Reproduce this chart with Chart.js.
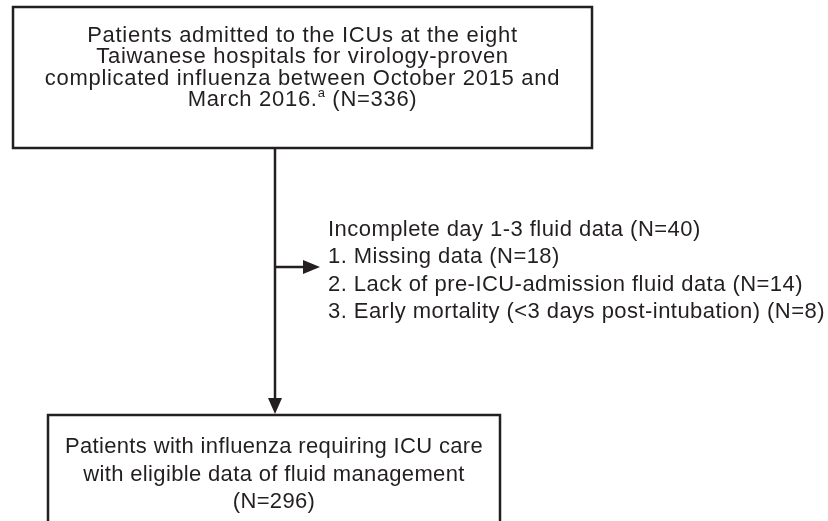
<!DOCTYPE html>
<html lang="en">
<head>
    <meta charset="UTF-8">
    <title>Flow chart - influenza ICU patients</title>
    <script src="https://cdn.jsdelivr.net/npm/chart.js"></script>
    <style>
        html, body { margin: 0; padding: 0; background: #fff; }
        #wrap { width: 828px; height: 521px; position: relative; }
    </style>
</head>
<body>
    <div id="wrap">
        <canvas id="flowChart"></canvas>
    </div>
    <script>
// counts shown in the flow
const enrolledN = 336;
const excludedN = 40;
const exclusionReasons = ['Missing data', 'Lack of pre-ICU-admission fluid data', 'Early mortality (<3 days post-intubation)'];
const exclusionCounts = [18, 14, 8];
const finalN = 296;

// box texts
const topLines = [
    'Patients admitted to the ICUs at the eight',
    'Taiwanese hospitals for virology-proven',
    'complicated influenza between October 2015 and'
];
const topLastLine = ['March 2016.', 'a', ' (N=' + enrolledN + ')'];
const sideLines = ['Incomplete day 1-3 fluid data (N=' + excludedN + ')']
    .concat(exclusionReasons.map((r, i) => (i + 1) + '. ' + r + ' (N=' + exclusionCounts[i] + ')'));
const bottomLines = [
    'Patients with influenza requiring ICU care',
    'with eligible data of fluid management',
    '(N=' + finalN + ')'
];

// layout in chart units (1 unit = 1 px on the 828x521 page)
const topBox = { left: 13, right: 592, top: 7, bottom: 148 };
const bottomBox = { left: 48, right: 500, top: 415, bottom: 545 };
const trunkX = 275;
const branchY = 267;
const branchTip = 320;

const ink = '#231f20';
const font = '22px "Liberation Sans", Arial, sans-serif';
const supFont = '13px "Liberation Sans", Arial, sans-serif';

const flowPlugin = {
    id: 'flow',
    afterDraw(chart) {
        const ctx = chart.ctx;
        const xs = chart.scales.x, ys = chart.scales.y;
        const px = v => xs.getPixelForValue(v);
        const py = v => ys.getPixelForValue(v);

        ctx.save();
        ctx.strokeStyle = ink;
        ctx.fillStyle = ink;
        ctx.lineWidth = 2.5;

        // boxes
        [topBox, bottomBox].forEach(b => {
            ctx.strokeRect(px(b.left), py(b.top), px(b.right) - px(b.left), py(b.bottom) - py(b.top));
        });

        // main arrow down
        ctx.beginPath();
        ctx.moveTo(px(trunkX), py(topBox.bottom));
        ctx.lineTo(px(trunkX), py(bottomBox.top - 14));
        ctx.stroke();
        ctx.beginPath();
        ctx.moveTo(px(trunkX - 7), py(bottomBox.top - 17));
        ctx.lineTo(px(trunkX + 7), py(bottomBox.top - 17));
        ctx.lineTo(px(trunkX), py(bottomBox.top - 1));
        ctx.closePath();
        ctx.fill();

        // side arrow
        ctx.beginPath();
        ctx.moveTo(px(trunkX), py(branchY));
        ctx.lineTo(px(branchTip - 14), py(branchY));
        ctx.stroke();
        ctx.beginPath();
        ctx.moveTo(px(branchTip - 17), py(branchY - 7));
        ctx.lineTo(px(branchTip - 17), py(branchY + 7));
        ctx.lineTo(px(branchTip), py(branchY));
        ctx.closePath();
        ctx.fill();

        // texts
        ctx.font = font;
        ctx.textBaseline = 'alphabetic';

        // top box
        ctx.letterSpacing = '0.7px';
        const cxTop = (topBox.left + topBox.right) / 2;
        ctx.textAlign = 'center';
        topLines.forEach((t, i) => ctx.fillText(t, px(cxTop), py(42 + 21.3 * i)));

        // last line with superscript
        ctx.textAlign = 'left';
        const w1 = ctx.measureText(topLastLine[0]).width;
        const w3 = ctx.measureText(topLastLine[2]).width;
        ctx.font = supFont;
        const w2 = ctx.measureText(topLastLine[1]).width;
        const x0 = px(cxTop) - (w1 + w2 + w3) / 2;
        const base = py(42 + 21.3 * 3);
        ctx.font = font;
        ctx.fillText(topLastLine[0], x0, base);
        ctx.font = supFont;
        ctx.fillText(topLastLine[1], x0 + w1, base - 9);
        ctx.font = font;
        ctx.fillText(topLastLine[2], x0 + w1 + w2, base);

        // exclusion text
        ctx.letterSpacing = '0.45px';
        ctx.textAlign = 'left';
        sideLines.forEach((t, i) => ctx.fillText(t, px(328), py(236 + 27.3 * i)));

        // bottom box text
        ctx.letterSpacing = '0.35px';
        const cxBot = (bottomBox.left + bottomBox.right) / 2;
        ctx.textAlign = 'center';
        bottomLines.forEach((t, i) => ctx.fillText(t, px(cxBot), py(453 + 27.5 * i)));

        ctx.restore();
    }
};

new Chart(document.getElementById('flowChart').getContext('2d'), {
    type: 'scatter',
    data: { datasets: [] },
    options: {
        responsive: true,
        maintainAspectRatio: false,
        animation: false,
        layout: { padding: 0 },
        plugins: { legend: { display: false }, tooltip: { enabled: false } },
        scales: {
            x: { type: 'linear', min: 0, max: 828, display: false },
            y: { type: 'linear', min: 0, max: 521, reverse: true, display: false }
        }
    },
    plugins: [flowPlugin]
});
    </script>
</body>
</html>
